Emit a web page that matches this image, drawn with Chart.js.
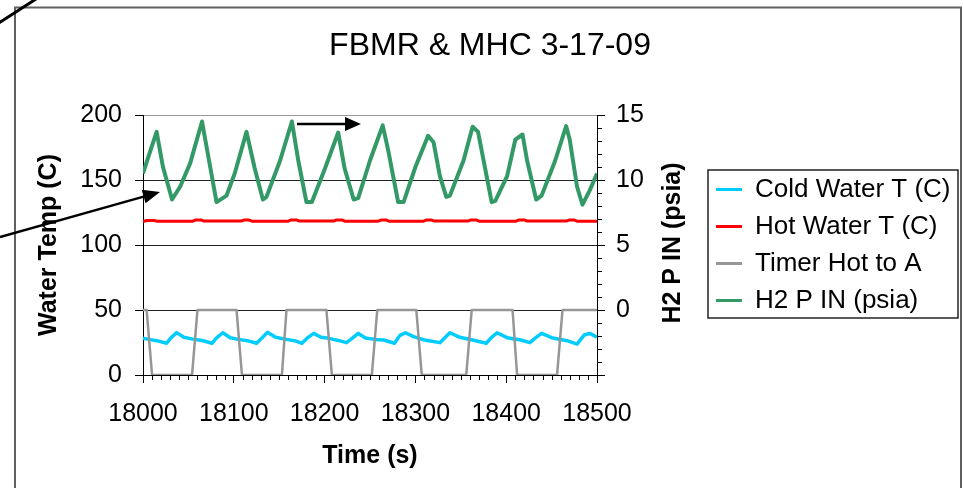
<!DOCTYPE html>
<html><head><meta charset="utf-8">
<script src="https://cdn.jsdelivr.net/npm/chart.js@4/dist/chart.umd.min.js"></script>
<style>html,body{margin:0;padding:0;background:#fff;overflow:hidden}canvas{display:block}</style>
</head><body>
<canvas id="c" width="964" height="488"></canvas>
<script>
const chartTitle = 'FBMR & MHC 3-17-09';
const seriesNames = ['Cold Water T (C)', 'Hot Water T (C)', 'Timer Hot to A', 'H2 P IN (psia)'];
const xTitle = 'Time (s)';
const yLeftTitle = 'Water Temp (C)';
const yRightTitle = 'H2 P IN (psia)';

const coldTime = [18000,18008,18015,18026,18030,18037,18045,18055,18065,18076,18081,18088,18096,18105,18115,18125,18131,18137,18146,18158,18168,18175,18181,18188,18196,18205,18215,18224,18231,18237,18245,18255,18265,18277,18283,18289,18298,18310,18327,18333,18338,18349,18363,18378,18384,18390,18401,18416,18426,18433,18439,18450,18467,18478,18486,18492,18500];
const coldTemp = [28.2,27.2,26.4,24.4,28.0,32.6,29.0,27.6,26.5,24.4,28.5,32.5,28.7,27.4,26.4,24.4,28.5,32.8,29.0,27.4,26.2,24.4,28.5,32.0,29.0,28.2,26.6,24.9,28.6,32.0,28.5,27.4,26.9,24.4,30.5,32.5,29.5,26.9,24.9,29.0,32.5,29.0,26.9,24.4,29.0,32.5,28.7,26.9,24.9,29.0,32.0,28.7,26.4,23.8,30.8,32.0,29.0];

const hotTime = [18000,18004,18012,18016,18055,18058,18064,18067,18108,18111,18117,18120,18160,18163,18169,18172,18210,18213,18219,18222,18259,18262,18268,18271,18309,18312,18318,18321,18358,18361,18367,18370,18411,18414,18420,18423,18466,18469,18475,18478,18500];
const hotTemp = [118.0,118.8,118.8,118.3, 118.3,119.3,119.3,118.4, 118.4,119.2,119.2,118.3, 118.3,119.3,119.3,118.4, 118.4,119.3,119.3,118.3, 118.3,119.2,119.2,118.3, 118.3,119.2,119.2,118.4, 118.4,119.3,119.3,118.3, 118.3,119.3,119.3,118.4, 118.4,119.2,119.2,118.3, 118.3];

const timerTime = [18000,18004,18010,18054,18060,18103,18109,18153,18158,18202,18208,18252,18258,18301,18307,18356,18362,18407,18412,18456,18462,18500];
const timerVal  = [50,50,0,0,50,50,0,0,50,50,0,0,50,50,0,0,50,50,0,0,50,50];

const h2Time = [18000,18006,18015,18022,18032,18041,18052,18065,18074,18081,18092,18101,18114,18123,18132,18136,18151,18164,18171,18180,18186,18200,18215,18222,18232,18237,18250,18264,18270,18281,18287,18300,18314,18320,18327,18334,18338,18353,18363,18369,18384,18388,18401,18410,18418,18423,18433,18439,18454,18466,18470,18478,18484,18492,18500];
const h2Psi = [10.5,11.8,13.7,11.0,8.5,9.5,11.3,14.5,11.0,8.3,8.8,10.5,13.7,10.9,8.5,8.7,11.5,14.5,11.5,8.3,8.3,10.8,13.65,10.9,8.5,8.6,11.5,14.2,12.3,8.3,8.3,11.0,13.4,12.9,10.3,8.7,8.8,11.5,14.1,13.7,8.3,8.4,10.3,13.1,13.5,11.5,8.5,8.8,11.5,14.15,13.1,9.5,8.1,9.2,10.5];

const xMin = 18000, xMax = 18500, xStep = 100, xMinorStep = 10;
const yMin = 0, yMax = 200, yStep = 50;
const y1Min = -5, y1Max = 15, y1Step = 5, y1MinorStep = 1;

const FAMILY = '"Liberation Sans", Arial, Helvetica, sans-serif';
const toPts = (xs, ys) => xs.map((x, i) => ({x, y: ys[i]}));

// legend sizing so that the legend starts at a fixed place
const LEG_FONT = 26, LEG_BOX = 26, LEG_PAD = 11;
const mctx = document.createElement('canvas').getContext('2d');
mctx.font = LEG_FONT + 'px ' + FAMILY;
const maxTextW = Math.max(...seriesNames.map(s => mctx.measureText(s).width));
const legendW = LEG_PAD + LEG_BOX + LEG_FONT / 2 + maxTextW + 10;
const LEGEND_LEFT = 705;
const padRight = Math.max(0, 964 - LEGEND_LEFT - legendW);

function arrow(ctx, x0, y0, x1, y1, len, half) {
  const a = Math.atan2(y1 - y0, x1 - x0);
  const bx = x1 - len * Math.cos(a), by = y1 - len * Math.sin(a);
  ctx.beginPath(); ctx.moveTo(x0, y0); ctx.lineTo(bx, by); ctx.stroke();
  ctx.beginPath();
  ctx.moveTo(x1, y1);
  ctx.lineTo(bx + half * Math.sin(a), by - half * Math.cos(a));
  ctx.lineTo(bx - half * Math.sin(a), by + half * Math.cos(a));
  ctx.closePath(); ctx.fill();
}

const decor = {
  id: 'decor',
  afterDraw(chart) {
    const ctx = chart.ctx;
    const xs = chart.scales.x, y1 = chart.scales.y1, ca = chart.chartArea;
    ctx.save();
    // minor ticks on x axis
    ctx.strokeStyle = '#000'; ctx.lineWidth = 1;
    ctx.beginPath();
    for (let v = xMin; v <= xMax; v += xMinorStep) {
      if (v % xStep === 0) continue;
      const px = Math.round(xs.getPixelForValue(v)) + 0.5;
      ctx.moveTo(px, ca.bottom); ctx.lineTo(px, ca.bottom + 5);
    }
    // minor ticks on right axis
    for (let v = y1Min; v <= y1Max; v += y1MinorStep) {
      if (v % y1Step === 0) continue;
      const py = Math.round(y1.getPixelForValue(v)) + 0.5;
      ctx.moveTo(ca.right, py); ctx.lineTo(ca.right + 5, py);
    }
    ctx.stroke();

    // outer chart border
    ctx.strokeStyle = '#606060'; ctx.lineWidth = 2;
    ctx.strokeRect(15, 7.5, 946, 500);

    // title
    ctx.fillStyle = '#000';
    ctx.font = '32px ' + FAMILY;
    ctx.textAlign = 'center'; ctx.textBaseline = 'alphabetic';
    ctx.fillText(chartTitle, 490, 55);

    // right axis title (reads bottom-to-top)
    ctx.save();
    ctx.translate(673, 243);
    ctx.rotate(-Math.PI / 2);
    ctx.font = 'bold 25px ' + FAMILY;
    ctx.textAlign = 'center'; ctx.textBaseline = 'middle';
    ctx.fillText(yRightTitle, 0, 0);
    ctx.restore();

    // legend frame
    const lg = chart.legend;
    const cy = (ca.top + ca.bottom) / 2;
    ctx.strokeStyle = '#222'; ctx.lineWidth = 1.5;
    ctx.strokeRect(lg.left + 3, cy - 75, 250, 148);

    // annotation strokes
    ctx.strokeStyle = '#000'; ctx.fillStyle = '#000';
    ctx.lineWidth = 3;
    ctx.beginPath(); ctx.moveTo(-2, 23.5); ctx.lineTo(36, -1); ctx.stroke();
    ctx.lineWidth = 2.5;
    arrow(ctx, 0, 237, 160, 192, 17, 7);
    arrow(ctx, 297, 124, 361, 124, 16, 7);
    ctx.restore();
  }
};

Chart.defaults.font.family = FAMILY;
Chart.defaults.color = '#000';

new Chart(document.getElementById('c'), {
  type: 'line',
  data: {
    datasets: [
      { label: seriesNames[0], data: toPts(coldTime, coldTemp), yAxisID: 'y', borderColor: '#00CCFF', backgroundColor: '#00CCFF', borderWidth: 3.5, order: 3 },
      { label: seriesNames[1], data: toPts(hotTime, hotTemp), yAxisID: 'y', borderColor: '#FF0000', backgroundColor: '#FF0000', borderWidth: 3, order: 2 },
      { label: seriesNames[2], data: toPts(timerTime, timerVal), yAxisID: 'y', borderColor: '#969696', backgroundColor: '#969696', borderWidth: 2.5, order: 1 },
      { label: seriesNames[3], data: toPts(h2Time, h2Psi), yAxisID: 'y1', borderColor: '#339966', backgroundColor: '#339966', borderWidth: 4, order: 0 }
    ]
  },
  options: {
    responsive: false,
    animation: false,
    devicePixelRatio: 1,
    events: [],
    elements: { point: { radius: 0 }, line: { tension: 0, fill: false, borderJoinStyle: 'round' } },
    layout: { padding: { top: 115, left: 0, right: padRight, bottom: 0 } },
    plugins: {
      title: { display: false },
      tooltip: { enabled: false },
      legend: {
        display: true,
        position: 'right',
        align: 'center',
        fullSize: false,
        maxWidth: 400,
        labels: {
          font: { size: LEG_FONT },
          color: '#000',
          boxWidth: LEG_BOX,
          boxHeight: 3,
          padding: LEG_PAD,
          sort: (a, b) => a.datasetIndex - b.datasetIndex,
          generateLabels(chart) {
            const items = Chart.defaults.plugins.legend.labels.generateLabels(chart);
            items.forEach(it => { it.fillStyle = it.strokeStyle; it.lineWidth = 0; });
            return items;
          }
        }
      }
    },
    scales: {
      x: {
        type: 'linear', position: 'bottom',
        min: xMin, max: xMax,
        ticks: { stepSize: xStep, autoSkip: false, maxRotation: 0, padding: 16, font: { size: 25 }, color: '#000',
                 callback: v => String(v) },
        grid: { drawOnChartArea: false, drawTicks: true, tickLength: 8, tickColor: '#000' },
        border: { display: true, color: '#000', width: 1 },
        title: { display: true, text: xTitle, font: { size: 25, weight: 'bold' }, color: '#000', padding: { top: 0, bottom: 17 } },
        afterFit: s => { s.height = 113; }
      },
      y: {
        type: 'linear', position: 'left',
        min: yMin, max: yMax,
        ticks: { stepSize: yStep, padding: 13, font: { size: 25 }, color: '#000' },
        grid: { color: c => (c.tick && c.tick.value === yMax) ? '#9a9a9a' : '#222', lineWidth: 1, tickLength: 8, tickColor: '#000' },
        border: { display: true, color: '#000', width: 1 },
        title: { display: true, text: yLeftTitle, font: { size: 25, weight: 'bold' }, color: '#000', padding: { top: 34, bottom: 0 } },
        afterFit: s => { s.width = 143; }
      },
      y1: {
        type: 'linear', position: 'right',
        min: y1Min, max: y1Max,
        ticks: { stepSize: y1Step, padding: 11, font: { size: 25 }, color: '#000',
                 callback: v => (v < 0 ? '' : String(v)) },
        grid: { drawOnChartArea: false, tickLength: 8, tickColor: '#000' },
        border: { display: true, color: '#000', width: 1 },
        title: { display: false },
        afterFit: s => { s.width = LEGEND_LEFT - 597; }
      }
    }
  },
  plugins: [decor]
});
</script>
</body></html>
